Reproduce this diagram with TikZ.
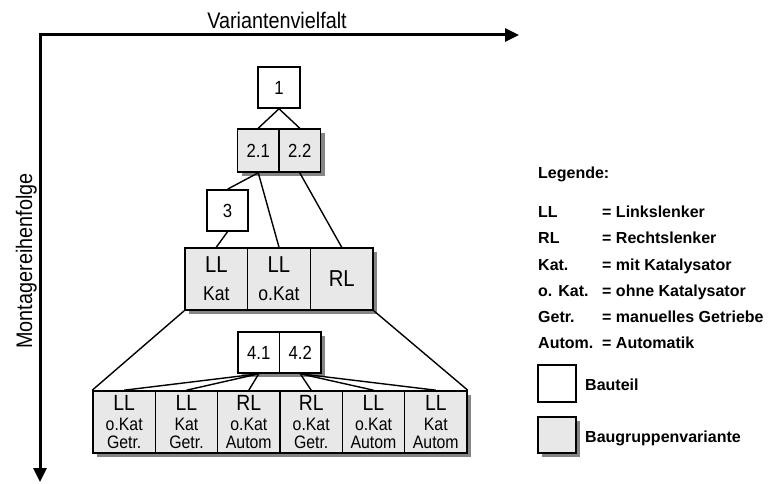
\documentclass[tikz,border=0pt]{standalone}
\usepackage{fontspec}
\setmainfont{Liberation Sans}[FakeStretch=0.88]
\newfontfamily\legendfamily{Liberation Sans}
\usetikzlibrary{shadows,arrows.meta}

\definecolor{cellgray}{HTML}{E8E8E8}
\definecolor{shadegray}{HTML}{858585}

% type sizes
\newcommand\axislabelfont{\fontsize{22.5}{24}\selectfont}
\newcommand\idfont{\fontsize{19}{21}\selectfont}
\newcommand\levbig{\fontsize{23}{24}\selectfont}
\newcommand\levsmall{\fontsize{20}{18}\selectfont}
\newcommand\botbig{\fontsize{22}{22}\selectfont}
\newcommand\botsmall{\fontsize{18}{17.5}\selectfont}

\begin{document}
\begin{tikzpicture}[x=1pt,y=-1pt,
  box/.style={draw, line width=1.6pt, rectangle, inner sep=0pt, align=center},
  part/.style={box, fill=white},
  variant/.style={box, fill=cellgray},
  shade/.style={drop shadow={shadow xshift=4pt, shadow yshift=-4pt, fill=shadegray, opacity=1}},
  idbox/.style={minimum width=41.5pt, minimum height=41pt, font=\idfont},
  levcell/.style={variant, shade, minimum width=62.67pt, minimum height=62pt, font=\levsmall},
  botcell/.style={variant, shade, minimum width=62.33pt, minimum height=62pt, font=\botsmall},
  link/.style={line width=1.4pt},
  axis/.style={line width=3pt, line join=miter},
  legtext/.style={anchor=base west, inner sep=0pt, font=\legendfamily\bfseries\fontsize{16}{18}\selectfont}
]
\useasboundingbox (0,0) rectangle (769,484);

% axes
\coordinate (corner) at (40,35);
\coordinate (xtip) at (519,35);
\coordinate (ytip) at (40,482);
\draw[axis, {Triangle[length=14pt,width=13pt]}-{Triangle[length=14pt,width=13pt]}]
  (ytip) -- (corner) -- (xtip);
\node[anchor=base, inner sep=0pt, font=\axislabelfont] (xlabel) at (277,29) {Variantenvielfalt};
\node[anchor=base, rotate=90, inner sep=0pt, font=\axislabelfont] (ylabel) at (32,261) {Montagereihenfolge};

% parts and assembly variants
\node[part, idbox, minimum width=42pt] (n1) at (279,87.5) {1};
\node[variant, shade, idbox, minimum height=43pt] (n21) at (258.25,150.5) {2.1};
\node[variant, shade, idbox, minimum height=43pt] (n22) at (299.75,150.5) {2.2};
\node[part, idbox, minimum width=41pt] (n3) at (227.5,210.5) {3};

\node[levcell] (l3a) at (216.3,279) {{\levbig LL}\\[10pt]Kat};
\node[levcell] (l3b) at (279,279) {{\levbig LL}\\[10pt]o.Kat};
\node[levcell] (l3c) at (341.7,279) {\levbig RL};

\node[part, shade, idbox] (n41) at (258.75,352.5) {4.1};
\node[part, shade, idbox] (n42) at (300.25,352.5) {4.2};

\node[botcell] (b1) at (124.2,422) {{\botbig LL}\\[2.5pt]o.Kat\\Getr.};
\node[botcell] (b2) at (186.5,422) {{\botbig LL}\\[2.5pt]Kat\\Getr.};
\node[botcell] (b3) at (248.8,422) {{\botbig RL}\\[2.5pt]o.Kat\\Autom};
\node[botcell] (b4) at (311.2,422) {{\botbig RL}\\[2.5pt]o.Kat\\Getr.};
\node[botcell] (b5) at (373.5,422) {{\botbig LL}\\[2.5pt]o.Kat\\Autom};
\node[botcell] (b6) at (435.8,422) {{\botbig LL}\\[2.5pt]Kat\\Autom};

% connectors
\draw[link] (n1.south) -- (n21.north);
\draw[link] (n1.south) -- (n22.north);
\draw[link] (n21.south) -- (n3.north);
\draw[link] (n21.south) -- (l3b.north);
\draw[link] (n22.south) -- (l3c.north);
\draw[link] (n3.south) -- (l3a.north);
\draw[link] (l3a.south west) -- (b1.north west);
\draw[link] (l3c.south east) -- (b6.north east);
\foreach \b in {b1,b2,b3} \draw[link] (n41.south) -- (\b.north);
\foreach \b in {b4,b5,b6} \draw[link] (n42.south) -- (\b.north);

% legend
\node[legtext] (legtitle) at (538,178.5) {Legende:};
\node[legtext] (k1) at (538,217.5) {LL};
\node[legtext] (v1) at (602,217.5) {= Linkslenker};
\node[legtext] (k2) at (538,243.5) {RL};
\node[legtext] (v2) at (602,243.5) {= Rechtslenker};
\node[legtext] (k3) at (538,270.5) {Kat.};
\node[legtext] (v3) at (602,270.5) {= mit Katalysator};
\node[legtext] (k4) at (538,296.5) {o. Kat.};
\node[legtext] (v4) at (602,296.5) {= ohne Katalysator};
\node[legtext] (k5) at (538,322.5) {Getr.};
\node[legtext] (v5) at (602,322.5) {= manuelles Getriebe};
\node[legtext] (k6) at (538,348.5) {Autom.};
\node[legtext] (v6) at (602,348.5) {= Automatik};

\node[part, minimum width=38pt, minimum height=37pt] (keypart) at (557,383.5) {};
\node[legtext] (keypartlabel) at (585,390.5) {Bauteil};
\node[variant, shade, minimum width=38pt, minimum height=36pt] (keyvariant) at (557,435) {};
\node[legtext] (keyvariantlabel) at (585,442.5) {Baugruppenvariante};
\end{tikzpicture}
\end{document}
